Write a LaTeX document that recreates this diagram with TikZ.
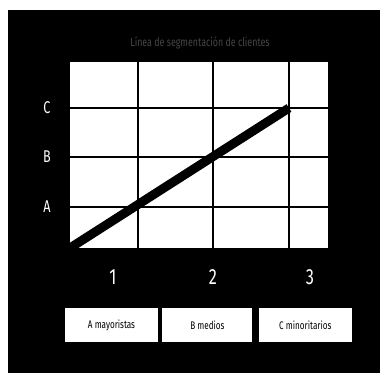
\documentclass[tikz,border=0pt]{standalone}
\usepackage{fontspec}
\setmainfont{Fira Sans}[FakeStretch=0.74]
\usetikzlibrary{positioning}
\definecolor{titlegray}{RGB}{70,70,70}
\tikzset{
  axislabel/.style={text=white,font=\fontsize{17}{17}\selectfont,inner sep=0pt},
  numlabel/.style={text=white,font=\fontsize{22}{22}\selectfont,inner sep=0pt},
  legendbox/.style={fill=white,minimum width=93pt,minimum height=34pt,inner sep=0pt,font=\fontsize{11}{11}\selectfont},
  gridline/.style={black,line width=2.5pt},
}
\begin{document}
\begin{tikzpicture}[x=1pt,y=-1pt]
\useasboundingbox (0,0) rectangle (380,373);
\fill[white] (0,0) rectangle (380,373);
\fill[black] (8,10) rectangle (380,373);
% title
\node (title) [text=titlegray,font=\fontsize{12}{12}\selectfont,inner sep=0pt] at (200,43) {Línea de segmentación de clientes};
% grid
\fill[white] (70,62) rectangle (328,248);
\foreach \x in {138,213,289} \draw[gridline] (\x,62) -- (\x,248);
\foreach \y in {108,157,207} \draw[gridline] (70,\y) -- (328,\y);
\coordinate (low) at (70,248);
\coordinate (high) at (289,108);
\draw[line width=9pt] (low) -- (high);
% axes
\node (la) [axislabel] at (47,207) {A};
\node (lb) [axislabel] at (47,157) {B};
\node (lc) [axislabel] at (47,108) {C};
\node (n1) [numlabel] at (113,277) {1};
\node (n2) [numlabel] at (213,277) {2};
\node (n3) [numlabel] at (310,277) {3};
% legend
\node (ba) [legendbox] at (111.5,325) {A mayoristas};
\node (bb) [legendbox,minimum width=90pt,right=4pt of ba] {B medios};
\node (bc) [legendbox,right=6pt of bb] {C minoritarios};
\end{tikzpicture}
\end{document}
